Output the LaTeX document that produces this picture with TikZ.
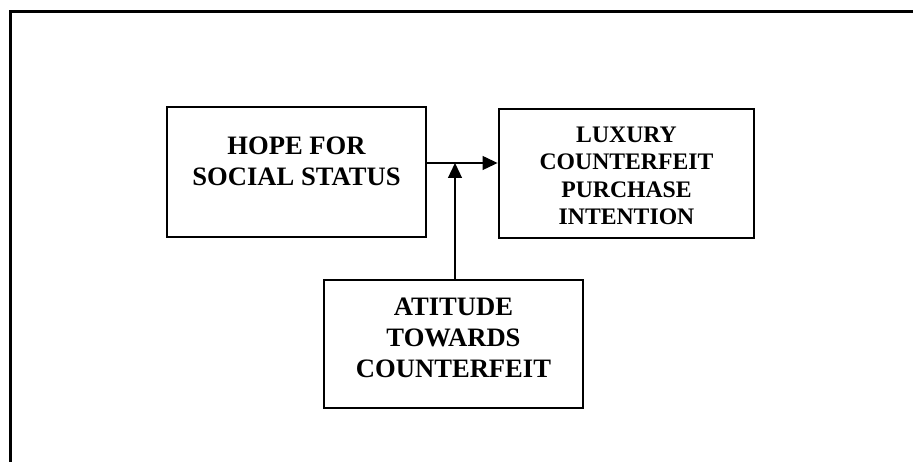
\documentclass[tikz,border=0pt]{standalone}
\usepackage{fontspec}
\setmainfont{Liberation Serif}
\usetikzlibrary{arrows.meta}
\tikzset{
  box/.style={draw, line width=2.9pt, rectangle, inner sep=0pt},
  lbl/.style={inner sep=0pt, align=center, anchor=base,
    font=\bfseries\fontsize{26.6}{31}\selectfont},
  conn/.style={line width=1.2pt, -{Triangle[length=15pt,width=14pt]}},
}
\begin{document}
\begin{tikzpicture}[x=1pt,y=-1pt]
\useasboundingbox (0,0) rectangle (913,462);
\clip (0,0) rectangle (913,462);
\draw[line width=3pt] (10.5,470) -- (10.5,11.5) -- (920,11.5);
\node[box, minimum width=259pt, minimum height=130pt] (hope) at (296.5,172) {};
\node[box, minimum width=255pt, minimum height=129pt] (lux) at (626.5,173.5) {};
\node[box, minimum width=259pt, minimum height=128pt] (att) at (453.5,344) {};
\node[lbl] (hopeT) at (296.5,186) {HOPE FOR\\SOCIAL STATUS};
\node[lbl, font=\bfseries\fontsize{23.7}{27.5}\selectfont] (luxT) at (626.5,225) {LUXURY\\COUNTERFEIT\\PURCHASE\\INTENTION};
\node[lbl] (attT) at (453.5,377) {ATITUDE\\TOWARDS\\COUNTERFEIT};
\coordinate (j) at (455,163);
\draw[conn] (hope.east |- j) -- (lux.west |- j);
\draw[conn] (j |- att.north) -- (j);
\end{tikzpicture}
\end{document}
